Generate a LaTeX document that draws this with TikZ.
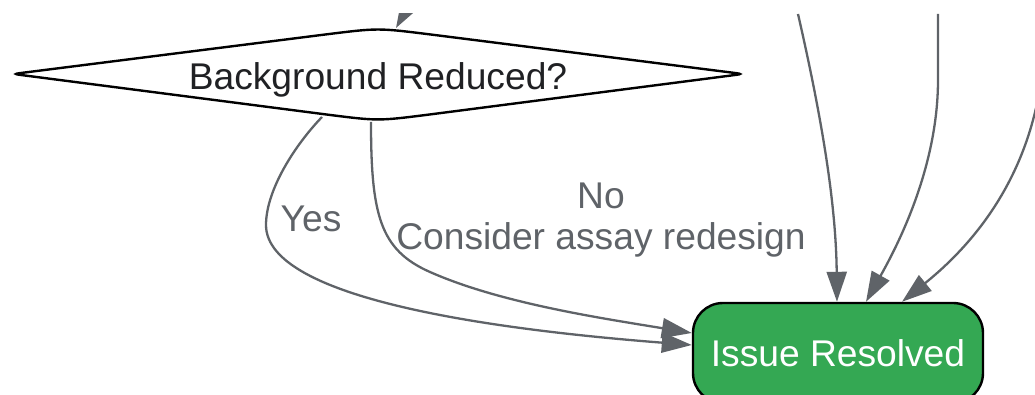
\documentclass[tikz,border=0pt]{standalone}
\usepackage{fontspec}
\setmainfont{Liberation Sans}
\usetikzlibrary{arrows.meta}
\definecolor{edgegray}{RGB}{95,99,104}
\definecolor{okgreen}{RGB}{52,168,83}
\definecolor{txtdark}{RGB}{32,33,36}
\begin{document}
\begin{tikzpicture}[x=0.5pt,y=-0.5pt,
  conn/.style={draw=edgegray,line width=1.15pt,-{Triangle[length=15pt,width=10pt]}},
  lbl/.style={text=edgegray,font=\fontsize{18.6}{20.5}\selectfont,inner sep=0pt},
  resnode/.style={draw=black,line width=1.2pt,fill=okgreen,rounded corners=15pt,
    minimum width=145pt,minimum height=50pt,text=white,
    font=\fontsize{18.6}{22}\selectfont},
  decnode/.style={text=txtdark,font=\fontsize{18.6}{22}\selectfont,inner sep=0pt},
  outline/.style={draw=black,line width=1.2pt,fill=white}]
\useasboundingbox (0,0) rectangle (1035,395);
\clip (0,14) rectangle (1035,395);
% decision diamond outline
\path[outline] (24.9,72.5) -- (328.4,34.1) .. controls (378,28) .. (427.6,34.1)
  -- (731.1,72.5) .. controls (743,74) .. (731.1,75.5)
  -- (427.6,114.75) .. controls (378,121) .. (328.4,114.75)
  -- (24.9,75.5) .. controls (13,74) .. cycle;
\node[decnode] (dec) at (378,80) {Background Reduced?};
\node[resnode] (ir) at (838,353) {Issue Resolved};
% coordinates
\coordinate (decin) at (396,28);
\coordinate (decinsrc) at (404,14);
\coordinate (yesstart) at (322,117);
\coordinate (nostart) at (371,122);
\coordinate (srcA) at (798,14);
\coordinate (srcB) at (938,14);
\coordinate (srcC) at (1036,108);
% incoming arrow to diamond (only head visible)
\draw[conn] (decinsrc) -- (decin);
% Yes branch
\draw[conn] (yesstart) .. controls (295,145) and (266,190) .. (266,225)
  .. controls (266,300) and (500,330) .. ([yshift=4pt]ir.west);
% No branch
\draw[conn] (nostart) .. controls (371,215) and (380,250) .. (430,272)
  .. controls (500,303) and (600,318) .. ([yshift=10pt]ir.west);
% incoming from top right
\draw[conn] (srcA) .. controls (820,110) and (836,200) .. ([xshift=-0.5pt]ir.north);
\draw[conn] (srcB) -- (938,80) .. controls (938,170) and (895,250) .. ([xshift=14pt]ir.north);
\draw[conn] (srcC) .. controls (1015,200) and (960,255) .. ([xshift=32pt]ir.north);
% labels
\node[lbl] (yeslbl) at (311,219) {Yes};
\node[lbl,align=center] (nolbl) at (601,220) {No\\Consider assay redesign};
\end{tikzpicture}
\end{document}
